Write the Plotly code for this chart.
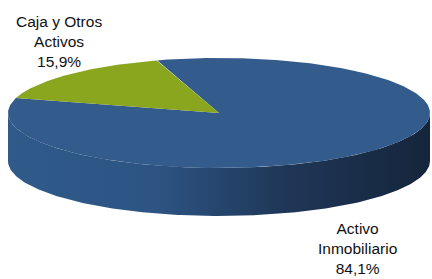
import numpy as np
import plotly.graph_objects as go

categories = ["Activo Inmobiliario", "Caja y Otros Activos"]
values = [84.1, 15.9]
value_labels = ["84,1%", "15,9%"]
label_text = ["Activo<br>Inmobiliario<br>84,1%", "Caja y Otros<br>Activos<br>15,9%"]
top_colors = ["#335b8b", "#8aa61f"]

W, H = 432, 279
cx, cy, rx, ry, depth = 219, 113, 211, 55, 48
start_deg = 107.0 + 360 * values[1] / sum(values)  # blue starts where green ends

fig = go.Figure()

total = sum(values)
angles = []
a = start_deg
for v in values:
    span = 360 * v / total
    angles.append((a, a + span))
    a += span

def ex(t):
    return cx + rx * np.cos(np.radians(t))

def ey(t, d=0):
    return cy - ry * np.sin(np.radians(t)) + d

# side walls (front half: 180..360 deg)
for (a0, a1), col in zip(angles, top_colors):
    for k in range(-1, 3):
        lo = max(a0, 180 + 360 * k)
        hi = min(a1, 360 + 360 * k)
        if hi > lo:
            t = np.linspace(lo, hi, 200)
            xs = np.concatenate([ex(t), ex(t[::-1])])
            ys = np.concatenate([ey(t), ey(t[::-1], depth)])
            fig.add_trace(go.Scatter(
                x=xs, y=ys, mode="lines", fill="toself", line=dict(width=0),
                fillgradient=dict(type="horizontal", colorscale=[
                    [0, "#2f5a8a"], [0.35, "#2d5483"], [0.65, "#1f3758"], [1, "#15253b"]]),
                hoverinfo="skip", showlegend=False))

# top faces
for (a0, a1), col, name in zip(angles, top_colors, categories):
    t = np.linspace(a0, a1, 300)
    xs = np.concatenate([[cx], ex(t), [cx]])
    ys = np.concatenate([[cy], ey(t), [cy]])
    fig.add_trace(go.Scatter(
        x=xs, y=ys, mode="lines", fill="toself", fillcolor=col,
        line=dict(width=0, color=col), name=name, showlegend=False, hoverinfo="name"))

fig.add_annotation(x=357, y=248, text=label_text[0], showarrow=False,
                   font=dict(size=15.5, color="#111111"))
fig.add_annotation(x=59, y=41, text=label_text[1], showarrow=False,
                   font=dict(size=15.5, color="#111111"))

fig.update_layout(
    width=W, height=H, margin=dict(l=0, r=0, t=0, b=0),
    paper_bgcolor="white", plot_bgcolor="white",
    font=dict(family="Liberation Sans, Arial, sans-serif"),
    xaxis=dict(range=[0, W], visible=False, fixedrange=True),
    yaxis=dict(range=[H, 0], visible=False, fixedrange=True),
)
fig.write_html("out.html", config={"displayModeBar": False},
               post_script="document.body.style.margin='0';")
